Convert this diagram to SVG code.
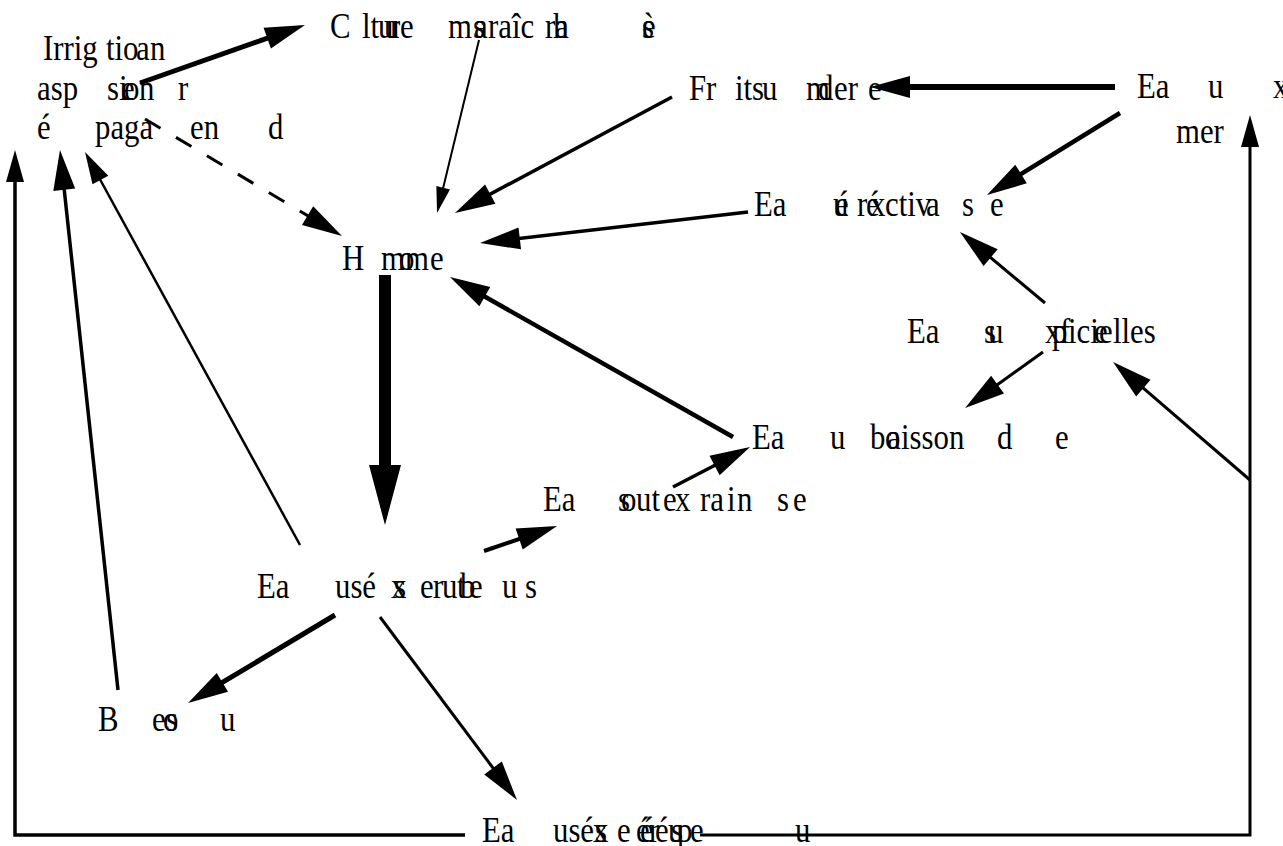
<svg xmlns="http://www.w3.org/2000/svg" width="1283" height="846" viewBox="0 0 1283 846">
<style>
text{font-family:"Liberation Serif","Times New Roman",serif;font-size:35px;fill:#000;transform-box:fill-box;transform-origin:0 50%;transform:scaleX(0.88)}
.c{fill:none;stroke:#000;stroke-linecap:butt;stroke-linejoin:miter}
</style>
<defs>
<marker id="mL" markerUnits="userSpaceOnUse" markerWidth="40" markerHeight="22" refX="20" refY="11" orient="auto" overflow="visible"><path d="M0,0 L40,11 L0,22 Z" fill="#000"/></marker>
<marker id="mM" markerUnits="userSpaceOnUse" markerWidth="32" markerHeight="18" refX="16" refY="9" orient="auto" overflow="visible"><path d="M0,0 L32,9 L0,18 Z" fill="#000"/></marker>
<marker id="mS" markerUnits="userSpaceOnUse" markerWidth="26" markerHeight="14" refX="13" refY="7" orient="auto" overflow="visible"><path d="M0,0 L26,7 L0,14 Z" fill="#000"/></marker>
<marker id="mXL" markerUnits="userSpaceOnUse" markerWidth="60" markerHeight="32" refX="30" refY="16" orient="auto" overflow="visible"><path d="M0,0 L60,16 L0,32 Z" fill="#000"/></marker>
</defs>
<rect width="1283" height="846" fill="#fff"/>
<g id="connectors">
<path class="c" d="M140,83 L286.1,31.6" stroke-width="5" marker-end="url(#mL)"/>
<path class="c" d="M145,119 L324.8,225.8" stroke-width="3" stroke-dasharray="18 18" marker-end="url(#mL)"/>
<path class="c" d="M479,40 L440.1,200.4" stroke-width="2" marker-end="url(#mS)"/>
<path class="c" d="M672,97 L472.6,203.6" stroke-width="3.5" marker-end="url(#mL)"/>
<path class="c" d="M1115,87 L890,87" stroke-width="6" marker-end="url(#mL)"/>
<path class="c" d="M1120,113 L1004,184.5" stroke-width="4.5" marker-end="url(#mL)"/>
<path class="c" d="M748,212 L499.9,240.7" stroke-width="3.5" marker-end="url(#mL)"/>
<path class="c" d="M733,437 L467.4,286.8" stroke-width="4.5" marker-end="url(#mL)"/>
<path class="c" d="M1045,303 L975.3,244.8" stroke-width="3" marker-end="url(#mL)"/>
<path class="c" d="M1043,352 L981.3,396.3" stroke-width="3" marker-end="url(#mL)"/>
<path class="c" d="M1250,480 L1128.2,375.1" stroke-width="3" marker-end="url(#mL)"/>
<path class="c" d="M673,487 L732.3,456.2" stroke-width="3.5" marker-end="url(#mL)"/>
<path class="c" d="M484,551 L538.1,532.5" stroke-width="4" marker-end="url(#mL)"/>
<path class="c" d="M300,545 L92.7,166" stroke-width="2.5" marker-end="url(#mM)"/>
<path class="c" d="M118,690 L62.1,169.9" stroke-width="3.5" marker-end="url(#mL)"/>
<path class="c" d="M335,615 L205.2,692.7" stroke-width="5" marker-end="url(#mL)"/>
<path class="c" d="M380,617 L505,784" stroke-width="3" marker-end="url(#mL)"/>
<path class="c" d="M385,275 L385,495" stroke-width="12" marker-end="url(#mXL)"/>
<path class="c" d="M465,835 L15,835 L15,166" stroke-width="3.5" marker-end="url(#mM)"/>
<path class="c" d="M700,835 L1250,835 L1250,131" stroke-width="3" marker-end="url(#mM)"/>
</g>
<g id="irrigation">
<text x="43" y="60">Irrig</text><text x="106" y="60">ti</text><text x="123" y="60">o</text><text x="136" y="60">a</text><text x="150" y="60">n</text>
<text x="37" y="100">asp</text><text x="107" y="100">si</text><text x="121" y="100">e</text><text x="124" y="100">o</text><text x="139" y="100">n</text><text x="178" y="100">r</text>
<text x="37" y="139">é</text><text x="95" y="139">paga</text><text x="190" y="139">en</text><text x="268" y="139">d</text>
</g>
<g id="culture">
<text x="330" y="38">C</text><text x="362" y="38">lt</text><text x="378" y="38">u</text><text x="384" y="38">u</text><text x="390" y="38">r</text><text x="400" y="38">e</text><text x="448" y="38">m</text><text x="473" y="38">s</text><text x="474" y="38">a</text><text x="488" y="38">raîc</text><text x="545" y="38">r</text><text x="553" y="38">h</text><text x="555" y="38">a</text><text x="642" y="38">s</text><text x="642" y="38">è</text>
</g>
<g id="fruits">
<text x="689" y="100">Fr</text><text x="735" y="100">it</text><text x="752" y="100">s</text><text x="762" y="100">u</text><text x="806" y="100">m</text><text x="818" y="100">d</text><text x="834" y="100">er</text><text x="868" y="100">e</text>
</g>
<g id="eau-mer">
<text x="1137" y="98">Ea</text><text x="1208" y="98">u</text><text x="1273" y="98">x</text><text x="1176" y="143">mer</text>
</g>
<g id="eau-recreative">
<text x="754" y="216">Ea</text><text x="833" y="216">u</text><text x="835" y="216">é</text><text x="857" y="216">r</text><text x="866" y="216">é</text><text x="870" y="216">x</text><text x="885" y="216">ctiv</text><text x="926" y="216">a</text><text x="962" y="216">s</text><text x="990" y="216">e</text>
</g>
<g id="homme">
<text x="342" y="270">H</text><text x="381" y="270">m</text><text x="399" y="270">o</text><text x="405" y="270">m</text><text x="430" y="270">e</text>
</g>
<g id="eau-superficielle">
<text x="907" y="343">Ea</text><text x="984" y="343">s</text><text x="988" y="343">u</text><text x="1045" y="343">x</text><text x="1052" y="343">p</text><text x="1060" y="343">f</text><text x="1068" y="343">ici</text><text x="1094" y="343">e</text><text x="1099" y="343">e</text><text x="1113" y="343">lles</text>
</g>
<g id="eau-boisson">
<text x="752" y="449">Ea</text><text x="830" y="449">u</text><text x="870" y="449">b</text><text x="885" y="449">o</text><text x="887" y="449">a</text><text x="901" y="449">isson</text><text x="997" y="449">d</text><text x="1055" y="449">e</text>
</g>
<g id="eau-souterraine">
<text x="543" y="511">Ea</text><text x="618" y="511">s</text><text x="621" y="511">o</text><text x="636" y="511">ut</text><text x="663" y="511">e</text><text x="675" y="511">x</text><text x="700" y="511">ra</text><text x="727" y="511">i</text><text x="737" y="511">n</text><text x="777" y="511">s</text><text x="793" y="511">e</text>
</g>
<g id="eaux-usees-brutes">
<text x="257" y="598">Ea</text><text x="335" y="598">usé</text><text x="391" y="598">x</text><text x="394" y="598">s</text><text x="420" y="598">e</text><text x="433" y="598">r</text><text x="442" y="598">u</text><text x="457" y="598">t</text><text x="460" y="598">b</text><text x="469" y="598">e</text><text x="502" y="598">u</text><text x="525" y="598">s</text>
</g>
<g id="besoins">
<text x="98" y="731">B</text><text x="152" y="731">e</text><text x="163" y="731">o</text><text x="166" y="731">s</text><text x="220" y="731">u</text>
</g>
<g id="eaux-usees-epurees">
<text x="482" y="842">Ea</text><text x="553" y="842">usé</text><text x="593" y="842">x</text><text x="595" y="842">s</text><text x="617" y="842">e</text><text x="636" y="842">é</text><text x="640" y="842">é</text><text x="649" y="842">r</text><text x="655" y="842">é</text><text x="668" y="842">u</text><text x="671" y="842">s</text><text x="677" y="842">p</text><text x="690" y="842">e</text><text x="795" y="842">u</text>
</g>
</svg>
